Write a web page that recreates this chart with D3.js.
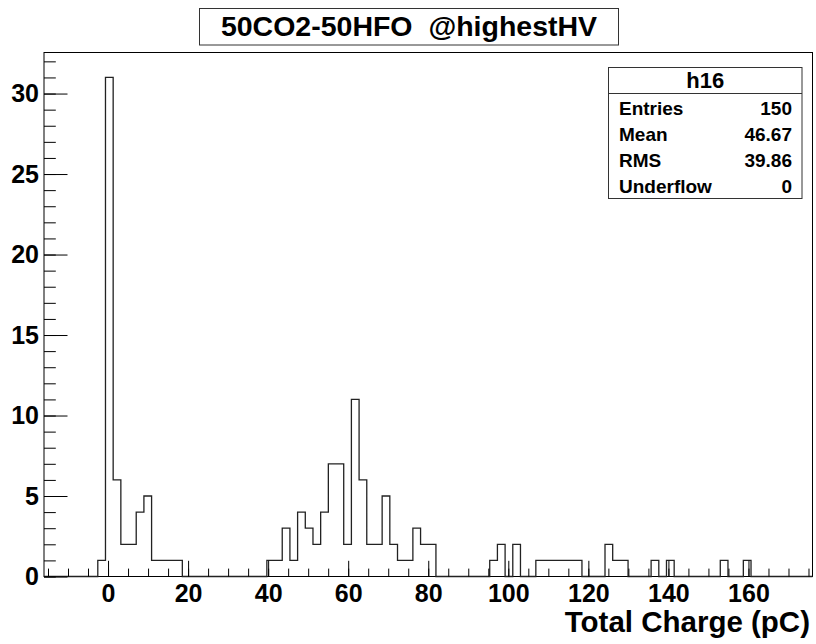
<!DOCTYPE html>
<html>
<head>
<meta charset="utf-8">
<script src="https://cdn.jsdelivr.net/npm/d3@7"></script>
<style>
  body { margin: 0; background: #fff; }
  text { font-family: "Liberation Sans", Arial, Helvetica, sans-serif; font-weight: bold; fill: #000; }
</style>
</head>
<body>
<div id="chart"></div>
<script>
// histogram h16 : 100 bins from -16 to 176 pC
var binLow = -16,
    binWidth = 1.92;
var counts = [
  0, 0, 0, 0, 0, 0, 0, 1, 31, 6,
  2, 2, 4, 5, 1, 1, 1, 1, 0, 0,
  0, 0, 0, 0, 0, 0, 0, 0, 0, 1,
  1, 3, 1, 4, 3, 2, 4, 7, 7, 2,
  11, 6, 2, 2, 5, 2, 1, 1, 3, 2,
  2, 0, 0, 0, 0, 0, 0, 0, 1, 2,
  0, 2, 0, 0, 1, 1, 1, 1, 1, 1,
  0, 0, 0, 2, 1, 1, 0, 0, 0, 1,
  0, 1, 0, 0, 0, 0, 0, 0, 1, 0,
  0, 1, 0, 0, 0, 0, 0, 0, 0, 0
];
var xMajor = [0, 20, 40, 60, 80, 100, 120, 140, 160];
var yMajor = [0, 5, 10, 15, 20, 25, 30];
var titleText = "50CO2-50HFO  @highestHV";
var xTitle = "Total Charge (pC)";
var statsName = "h16";
var statsLabels = ["Entries", "Mean", "RMS", "Underflow"];
var statsValues = ["150", "46.67", "39.86", "0"];

var W = 816, H = 644;
var frame = {left: 44, right: 812.5, top: 52.5, bottom: 576.5};

var xMin = binLow, xMax = binLow + binWidth * counts.length;
var yMax = d3.max(counts) * 1.05;

var x = d3.scaleLinear().domain([xMin, xMax]).range([frame.left, frame.right]);
var y = d3.scaleLinear().domain([0, yMax]).range([frame.bottom, frame.top]);

var svg = d3.select("#chart").append("svg")
    .attr("width", W)
    .attr("height", H);

//frame
svg.append("rect")
    .attr("x", frame.left).attr("y", frame.top)
    .attr("width", frame.right - frame.left)
    .attr("height", frame.bottom - frame.top)
    .style("fill", "none").style("stroke", "#000").style("stroke-width", 1);

//histogram outline
var pts = [[xMin, 0]];
counts.forEach(function(c, i) {
    var lo = binLow + i * binWidth;
    pts.push([lo, c]);
    pts.push([lo + binWidth, c]);
});
pts.push([xMax, 0]);

svg.append("path")
    .datum(pts)
    .attr("d", d3.line().x(d => x(d[0])).y(d => y(d[1])))
    .style("fill", "none")
    .style("stroke", "#222")
    .style("stroke-width", 1.3);

//x axis : minor + major ticks pointing inside
var xMinorVals = d3.range(-15, xMax, 5);
svg.append("g")
    .attr("transform", "translate(0," + frame.bottom + ")")
    .call(d3.axisBottom(x).tickValues(xMinorVals).tickSize(-7.9).tickSizeOuter(0).tickFormat(""))
    .call(g => g.select(".domain").remove());

svg.append("g")
    .attr("class", "xmajor")
    .attr("transform", "translate(0," + frame.bottom + ")")
    .call(d3.axisBottom(x).tickValues(xMajor).tickSize(-15.7).tickSizeOuter(0).tickPadding(8))
    .call(g => g.select(".domain").remove())
    .call(g => g.selectAll("text").style("font-size", "25px").attr("fill", "#000"));

//y axis
var yMinorVals = d3.range(0, Math.floor(yMax) + 1, 1);
svg.append("g")
    .attr("transform", "translate(" + frame.left + ",0)")
    .call(d3.axisLeft(y).tickValues(yMinorVals).tickSize(-11.8).tickSizeOuter(0).tickFormat(""))
    .call(g => g.select(".domain").remove());

svg.append("g")
    .attr("transform", "translate(" + frame.left + ",0)")
    .call(d3.axisLeft(y).tickValues(yMajor).tickSize(-23.5).tickSizeOuter(0).tickPadding(5))
    .call(g => g.select(".domain").remove())
    .call(g => g.selectAll("text").style("font-size", "25px").attr("fill", "#000"));

svg.selectAll(".tick line").style("stroke", "#000").style("stroke-width", 1);

//axis title
svg.append("text")
    .attr("x", 810).attr("y", 632)
    .attr("text-anchor", "end")
    .style("font-size", "29.5px")
    .text(xTitle);

//title box
svg.append("rect")
    .attr("x", 199.5).attr("y", 8.5).attr("width", 419).attr("height", 36.5)
    .style("fill", "#fff").style("stroke", "#333").style("stroke-width", 1);
svg.append("text")
    .attr("x", 409).attr("y", 36)
    .attr("text-anchor", "middle")
    .style("font-size", "28.5px")
    .style("white-space", "pre")
    .attr("xml:space", "preserve")
    .text(titleText);

//stats box
var sb = {x: 608.5, y: 67.5, w: 193.5, h: 131};
svg.append("rect")
    .attr("x", sb.x).attr("y", sb.y).attr("width", sb.w).attr("height", sb.h)
    .style("fill", "#fff").style("stroke", "#333").style("stroke-width", 1);
svg.append("line")
    .attr("x1", sb.x).attr("x2", sb.x + sb.w)
    .attr("y1", 93.5).attr("y2", 93.5)
    .style("stroke", "#333");
svg.append("text")
    .attr("x", sb.x + sb.w / 2).attr("y", 88)
    .attr("text-anchor", "middle")
    .style("font-size", "22px")
    .text(statsName);

var rowY = d3.scalePoint().domain(statsLabels).range([115, 193]);
statsLabels.forEach(function(l, i) {
    svg.append("text")
        .attr("x", 619).attr("y", rowY(l))
        .style("font-size", "19px")
        .text(l);
    svg.append("text")
        .attr("x", 792).attr("y", rowY(l))
        .attr("text-anchor", "end")
        .style("font-size", "19px")
        .text(statsValues[i]);
});
</script>
</body>
</html>
